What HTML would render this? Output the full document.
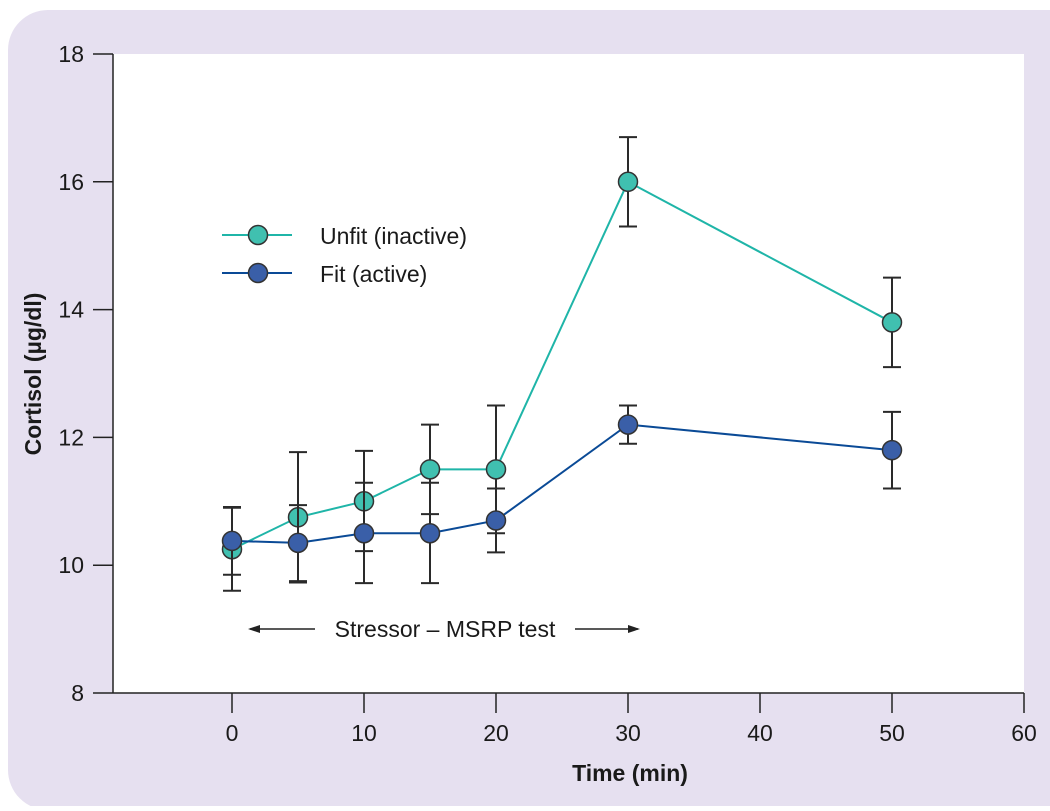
<!DOCTYPE html>
<html><head><meta charset="utf-8"><style>
body{margin:0;background:#fff;}
svg text{font-family:"Liberation Sans",Arial,sans-serif;fill:#1a1a1a;}
</style></head><body>
<svg width="1050" height="806" viewBox="0 0 1050 806">
<rect x="8" y="10" width="1080" height="800" rx="40" fill="#e6e0f0"/>
<rect x="113" y="54" width="911" height="639" fill="#fff"/>
<g id="axes"></g>
<g id="marks"></g>
<g>
<line x1="222" y1="235" x2="292" y2="235" stroke="#1fb5a8" stroke-width="2"/>
<circle cx="258" cy="235" r="9.5" fill="#40c0b0" stroke="#333" stroke-width="1.5"/>
<text x="320" y="244" font-size="23">Unfit (inactive)</text>
<line x1="222" y1="273" x2="292" y2="273" stroke="#0a4a96" stroke-width="2"/>
<circle cx="258" cy="273" r="9.5" fill="#3a5fa8" stroke="#333" stroke-width="1.5"/>
<text x="320" y="282" font-size="23">Fit (active)</text>
</g>
<g>
<line x1="250" y1="629" x2="315" y2="629" stroke="#222" stroke-width="1.5"/>
<polygon points="248,629 260,625 260,633" fill="#222"/>
<text x="445" y="637" font-size="23" text-anchor="middle">Stressor – MSRP test</text>
<line x1="575" y1="629" x2="638" y2="629" stroke="#222" stroke-width="1.5"/>
<polygon points="640,629 628,625 628,633" fill="#222"/>
</g>
<text transform="translate(41,374) rotate(-90)" font-size="23" font-weight="bold" text-anchor="middle">Cortisol (µg/dl)</text>
<text x="630" y="781" font-size="23" font-weight="bold" text-anchor="middle">Time (min)</text>
</svg>
<script>
const times=[0,5,10,15,20,30,50];
const unfit=[10.25,10.75,11.0,11.5,11.5,16.0,13.8];
const unfitHi=[10.9,11.77,11.79,12.2,12.5,16.7,14.5];
const unfitLo=[9.6,9.73,10.22,10.8,10.5,15.3,13.1];
const fit=[10.38,10.35,10.5,10.5,10.7,12.2,11.8];
const fitHi=[10.91,10.94,11.29,11.29,11.2,12.5,12.4];
const fitLo=[9.85,9.75,9.72,9.72,10.2,11.9,11.2];
const xTicks=[0,10,20,30,40,50,60];
const yTicks=[8,10,12,14,16,18];
const NS="http://www.w3.org/2000/svg";
function X(v){return 232+v*(1024-232)/60;}
function Y(v){return 693-(v-8)*(693-54)/10;}
function mk(t,a,p){const e=document.createElementNS(NS,t);for(const k in a)e.setAttribute(k,a[k]);p.appendChild(e);return e;}
const axes=document.getElementById('axes'),marks=document.getElementById('marks');
let ya=mk('line',{x1:113,y1:54,x2:113,y2:693,stroke:'#222','stroke-width':1.5},axes);


let xa=mk('line',{x1:113,y1:693,x2:1024,y2:693,stroke:'#222','stroke-width':1.5},axes);


yTicks.forEach(v=>{mk('line',{x1:93,y1:Y(v),x2:113,y2:Y(v),stroke:'#222','stroke-width':1.5},axes);
const t=mk('text',{x:84,y:Y(v)+8,'font-size':23,'text-anchor':'end'},axes);t.textContent=v;

});
xTicks.forEach(v=>{mk('line',{x1:X(v),y1:693,x2:X(v),y2:713,stroke:'#222','stroke-width':1.5},axes);
const t=mk('text',{x:X(v),y:741,'font-size':23,'text-anchor':'middle'},axes);t.textContent=v;

});
function series(vals,hi,lo,lc,name){
const g=mk('g',{},marks);


times.forEach((t,i)=>{const x=X(t);
mk('line',{x1:x,y1:Y(hi[i]),x2:x,y2:Y(lo[i]),stroke:'#2a2a2a','stroke-width':2},g);
[hi[i],lo[i]].forEach(v=>mk('line',{x1:x-9,y1:Y(v),x2:x+9,y2:Y(v),stroke:'#2a2a2a','stroke-width':2},g));});
const l=mk('polyline',{points:times.map((t,i)=>X(t)+','+Y(vals[i])).join(' '),fill:'none',stroke:lc,'stroke-width':2},g);


return g;}
function points(g,vals,fc,name){times.forEach((t,i)=>{const c=mk('circle',{cx:X(t),cy:Y(vals[i]),r:9.5,fill:fc,stroke:'#333','stroke-width':1.5},g);

});}
const gu=series(unfit,unfitHi,unfitLo,'#1fb5a8','unfit');
const gf=series(fit,fitHi,fitLo,'#0a4a96','fit');
points(gu,unfit,'#40c0b0','unfit');
points(gf,fit,'#3a5fa8','fit');
</script>
</body></html>
